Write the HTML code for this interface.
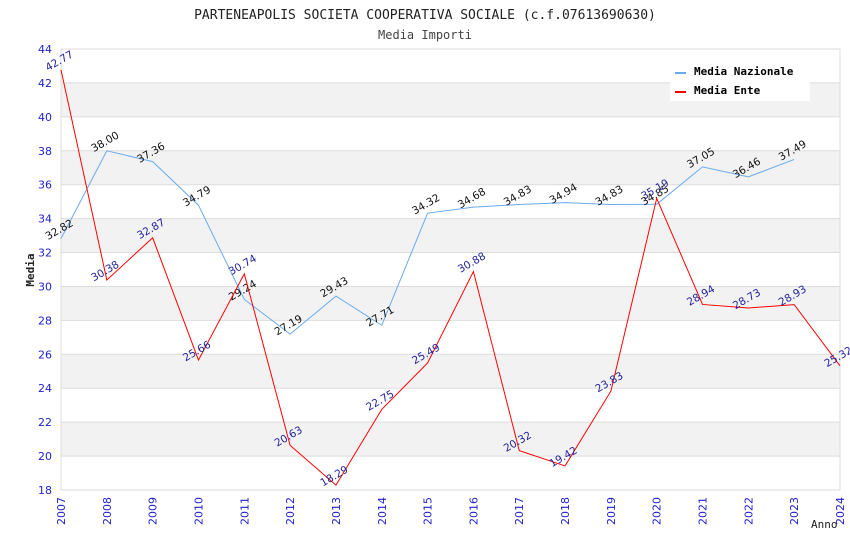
<!DOCTYPE html>
<html><head><meta charset="utf-8"><style>
body{margin:0;background:#fff;}
</style></head><body>
<svg id="chart" width="850" height="550" xmlns="http://www.w3.org/2000/svg" font-family="DejaVu Sans Mono, Liberation Mono, monospace">
<text x="425" y="19" text-anchor="middle" font-size="13" fill="#222">PARTENEAPOLIS SOCIETA COOPERATIVA SOCIALE (c.f.07613690630)</text>
<text x="425" y="39" text-anchor="middle" font-size="12" fill="#444">Media Importi</text>
<g id="bands"></g><g id="grid"></g>
<rect x="61" y="49" width="779" height="441" fill="none" stroke="#ddd"/>
<g id="axes"></g><g id="series"></g>
<text transform="translate(34,270) rotate(-90)" text-anchor="middle" font-size="11" font-weight="bold" fill="#222">Media</text>
<text x="811" y="528" font-size="11" fill="#222">Anno</text>
<g>
<rect x="670" y="60" width="140" height="41" fill="#fff"/>
<line x1="675" y1="73" x2="686" y2="73" stroke="#6aaaee" stroke-width="2"/>
<text x="694" y="75" font-size="11" font-weight="bold" fill="#000">Media Nazionale</text>
<line x1="675" y1="92" x2="686" y2="92" stroke="red" stroke-width="2"/>
<text x="694" y="94" font-size="11" font-weight="bold" fill="#000">Media Ente</text>
</g>
</svg>
<script>
const years=[2007,2008,2009,2010,2011,2012,2013,2014,2015,2016,2017,2018,2019,2020,2021,2022,2023,2024];
const yTicks=[18,20,22,24,26,28,30,32,34,36,38,40,42,44];
const nazionale=[32.82,38.00,37.36,34.79,29.24,27.19,29.43,27.71,34.32,34.68,34.83,34.94,34.83,34.85,37.05,36.46,37.49];
const ente=[42.77,30.38,32.87,25.66,30.74,20.63,18.29,22.75,25.49,30.88,20.32,19.42,23.83,35.19,28.94,28.73,28.93,25.32];
const NS="http://www.w3.org/2000/svg";
const SANS='font-family:"DejaVu Sans","Liberation Sans",sans-serif';
const X=i=>61+i*(779/17);
const Y=v=>490-(v-18)*(441/26);
function mk(t,a,p){const e=document.createElementNS(NS,t);for(const k in a)e.setAttribute(k,a[k]);p.appendChild(e);return e;}
const bands=document.getElementById('bands'),grid=document.getElementById('grid'),axes=document.getElementById('axes'),ser=document.getElementById('series');
yTicks.forEach(v=>{
  if(v<44&&(v%4===0)){const b=mk('rect',{x:61,y:Y(v+2),width:779,height:Y(v)-Y(v+2),fill:'#f2f2f2'},bands);
  
  }
  const g=mk('line',{x1:61,x2:840,y1:Y(v),y2:Y(v),stroke:'#ddd'},grid);
  
  
  const t=mk('text',{style:SANS,x:52,y:Y(v)+4,'text-anchor':'end','font-size':11,fill:'#22c'},axes);t.textContent=v;
  
  
});
years.forEach((yr,i)=>{
  const t=mk('text',{style:SANS,transform:`translate(${X(i)+4},${497}) rotate(-90)`,'text-anchor':'end','font-size':11,fill:'#22c'},axes);t.textContent=yr;
  
  
});
function draw(vals,color,lab,name){
  const l=mk('polyline',{points:vals.map((v,i)=>X(i)+','+Y(v)).join(' '),fill:'none',stroke:color,'stroke-width':1},ser);
  
  
  vals.forEach((v,i)=>{
    const t=mk('text',{style:SANS,transform:`translate(${X(i)},${Y(v)-6}) rotate(-30)`,'text-anchor':'middle','font-size':10.5,fill:lab},ser);t.textContent=v.toFixed(2);
    
    
  });
}
draw(nazionale,'#6aaaee','#111','nazionale');
draw(ente,'red','#22229a','ente');
</script>
</body></html>
